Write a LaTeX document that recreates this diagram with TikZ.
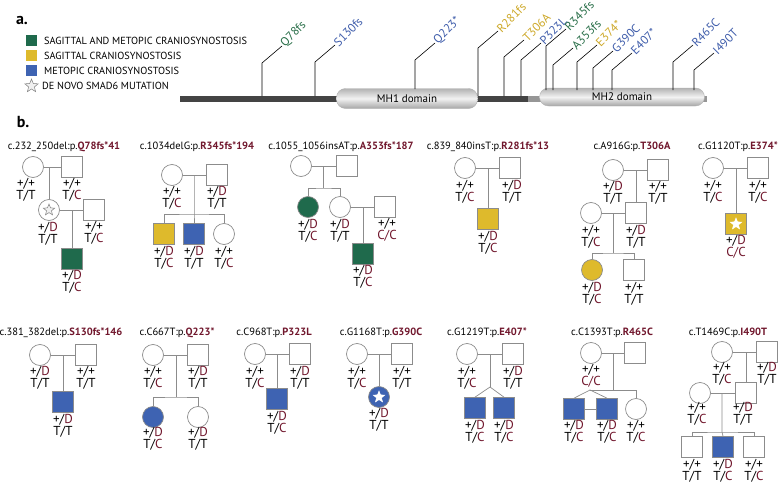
\documentclass[tikz,border=0pt]{standalone}
\usepackage{fontspec}
\setmainfont{PT Sans}
\usetikzlibrary{shapes.geometric,positioning}

\definecolor{sgreen}{RGB}{31,106,76}
\definecolor{syellow}{RGB}{222,186,44}
\definecolor{sblue}{RGB}{62,99,178}
\definecolor{tgreen}{RGB}{40,110,72}
\definecolor{tyellow}{RGB}{205,168,40}
\definecolor{tblue}{RGB}{62,92,170}
\definecolor{mutred}{RGB}{112,22,44}
\definecolor{linegray}{RGB}{140,140,140}
\definecolor{bardark}{RGB}{68,68,68}
\definecolor{barlight}{RGB}{150,150,150}

\newcommand{\mred}[1]{\textcolor{mutred}{#1}}
\newcommand{\ttlfont}{\fontsize{10.5}{11}\selectfont}
\newcommand{\gtfont}{\fontsize{13}{11}\selectfont}
\newcommand{\lgfont}{\fontsize{10.3}{11}\selectfont}
\newcommand{\mufont}{\fontsize{12}{12}\selectfont}

\tikzset{
  female/.style={circle, draw=linegray, line width=0.7pt, minimum size=21pt, inner sep=0pt},
  male/.style={rectangle, draw=linegray, line width=0.7pt, minimum size=21pt, inner sep=0pt},
  gtype/.style={font=\gtfont, align=center, inner sep=0pt},
  ptitle/.style={font=\ttlfont, inner sep=0pt},
  pline/.style={draw=linegray, line width=0.7pt},
  novo/.style={star, star points=5, star point ratio=2.3, minimum size=12pt, inner sep=0pt, draw=gray, fill=gray!12, line width=0.5pt},
  novow/.style={novo, draw=white, fill=white},
  mhbox/.style={rounded corners=9pt, draw=gray!60, top color=gray!60, bottom color=gray!70, middle color=gray!10, font=\fontsize{11}{12}\selectfont, inner sep=0pt},
  stem/.style={draw=black, line width=0.6pt},
  mutlab/.style={font=\mufont, rotate=45, anchor=west, inner sep=1pt},
  keybox/.style={minimum size=10.5pt, inner sep=0pt},
  keytext/.style={font=\lgfont, inner sep=0pt, anchor=west}
}

\begin{document}
\begin{tikzpicture}[x=1pt, y=-1pt]
    \useasboundingbox (0,0) rectangle (779,487);

    % Panel labels
    \node[font=\bfseries\fontsize{16}{16}\selectfont] (lbla) at (22,21) {a.};
    \node[font=\bfseries\fontsize{16}{16}\selectfont] (lblb) at (23,122) {b.};

    % Legend
    \node[keybox, fill=sgreen] (lg1) at (31.5,40.5) {};
    \node[keybox, fill=syellow] (lg2) at (31.5,55.5) {};
    \node[keybox, fill=sblue] (lg3) at (31.5,70.5) {};
    \node[novo, minimum size=14pt] (lg4) at (31.5,86) {};
    \node[keytext, right=7pt of lg1] (lt1) {SAGITTAL AND METOPIC CRANIOSYNOSTOSIS};
    \node[keytext, right=7pt of lg2] (lt2) {SAGITTAL CRANIOSYNOSTOSIS};
    \node[keytext, right=7pt of lg3] (lt3) {METOPIC CRANIOSYNOSTOSIS};
    \node[keytext, right=6pt of lg4] (lt4) {DE NOVO SMAD6 MUTATION};

    % Protein bar with domains
    \fill[bardark] (180,96) rectangle (528,102);
    \fill[barlight] (528,96) rectangle (707,102);
    \node[mhbox, minimum width=141pt, minimum height=20pt] (mh1) at (407,98.5) {MH1 domain};
    \node[mhbox, minimum width=165pt, minimum height=18pt] (mh2) at (622,97) {MH2 domain};

    % Mutation stems
    \foreach \x/\yb/\yt/\col/\lab [count=\i] in {
        262/96/63/tgreen/Q78fs, 315/96/62/tblue/S130fs, 415/89/60/tblue/Q223*,
        478/96/48/tyellow/R281fs, 504/96/57/tyellow/T306A, 521/96/60/tblue/P323L,
        546/90/46/tgreen/R345fs, 553/90/65/tgreen/A353fs, 577/90/62/tyellow/E374*,
        593/90/68/tblue/G390C, 612/90/70/tblue/E407*, 673/90/62/tblue/R465C,
        694/90/70/tblue/I490T} {
        \coordinate (mb\i) at (\x,\yb);
        \coordinate (mt\i) at (\x,\yt);
        \node[mutlab, text=\col] (mut\i) at (\x+20,\yt-17) {\lab};
        \draw[stem] (mb\i) -- (mt\i) -- (mut\i.west);
    }

    % Pedigree 1: c.232_250del
    \node[ptitle] (t1) at (64,147) {c.232\_250del:p.\mred{\textbf{Q78fs*41}}};
    \node[female] (p1a) at (33,167) {};
    \node[male] (p1b) at (72,167) {};
    \node[female] (p1c) at (49,210) {};
    \node[novo] (p1s) at (49,210) {};
    \node[male] (p1d) at (94,210) {};
    \node[male, fill=sgreen] (p1e) at (72,259) {};
    \draw[pline] (p1a.east) -- (p1b.west);
    \draw[pline] (p1c.north) -- (p1c.north |- p1a.east);
    \draw[pline] (p1c.east) -- (p1d.west);
    \draw[pline] (p1e.north) -- (p1e.north |- p1c.east);
    \node[gtype] (g1a) at (26,190) {+/+\\T/T};
    \node[gtype] (g1b) at (72,190) {+/+\\T/\mred{C}};
    \node[gtype] (g1c) at (48,234) {+/\mred{D}\\T/T};
    \node[gtype] (g1d) at (94,233) {+/+\\T/\mred{C}};
    \node[gtype] (g1e) at (72,282) {+/\mred{D}\\T/\mred{C}};

    % Pedigree 2: c.1034delG
    \node[ptitle] (t2) at (197,147) {c.1034delG:p.\mred{\textbf{R345fs*194}}};
    \node[female] (p2a) at (172,175) {};
    \node[male] (p2b) at (217,175) {};
    \node[male, fill=syellow] (p2c) at (164,234) {};
    \node[male, fill=sblue] (p2d) at (194,234) {};
    \node[female] (p2e) at (224,234) {};
    \coordinate (p2m) at (194,175);
    \coordinate (p2s) at (194,214);
    \draw[pline] (p2a.east) -- (p2b.west);
    \draw[pline] (p2m) -- (p2s) -- (p2d.north);
    \draw[pline] (p2c.north) |- (p2s) -| (p2e.north);
    \node[gtype] (g2a) at (172,198) {+/+\\T/\mred{C}};
    \node[gtype] (g2b) at (217,198) {+/\mred{D}\\T/T};
    \node[gtype] (g2c) at (164,258) {+/\mred{D}\\T/\mred{C}};
    \node[gtype] (g2d) at (194,258) {+/\mred{D}\\T/T};
    \node[gtype] (g2e) at (224,258) {+/+\\T/\mred{C}};

    % Pedigree 3: c.1055_1056insAT
    \node[ptitle] (t3) at (341,147) {c.1055\_1056insAT:p.\mred{\textbf{A353fs*187}}};
    \node[female] (p3a) at (301,166) {};
    \node[male] (p3b) at (347,166) {};
    \node[female, fill=sgreen] (p3c) at (308,207) {};
    \node[female] (p3d) at (340,207) {};
    \node[male] (p3e) at (385,207) {};
    \node[male, fill=sgreen] (p3f) at (363,254) {};
    \coordinate (p3m) at (323,166);
    \coordinate (p3s) at (323,188);
    \draw[pline] (p3a.east) -- (p3b.west);
    \draw[pline] (p3m) -- (p3s);
    \draw[pline] (p3c.north) |- (p3s) -| (p3d.north);
    \draw[pline] (p3d.east) -- (p3e.west);
    \draw[pline] (p3f.north) -- (p3f.north |- p3e.west);
    \node[gtype] (g3c) at (308,231) {+/\mred{D}\\T/\mred{C}};
    \node[gtype] (g3d) at (340,231) {+/\mred{D}\\T/T};
    \node[gtype] (g3e) at (387,230) {+/+\\\mred{C/C}};
    \node[gtype] (g3f) at (363,277) {+/\mred{D}\\T/\mred{C}};

    % Pedigree 4: c.839_840insT
    \node[ptitle] (t4) at (488,147) {c.839\_840insT:p.\mred{\textbf{R281fs*13}}};
    \node[female] (p4a) at (465,168) {};
    \node[male] (p4b) at (510,168) {};
    \node[male, fill=syellow] (p4c) at (488,219) {};
    \draw[pline] (p4a.east) -- (p4b.west);
    \draw[pline] (p4c.north) -- (p4c.north |- p4a.east);
    \node[gtype] (g4a) at (465,192) {+/+\\T/\mred{C}};
    \node[gtype] (g4b) at (512,192) {+/\mred{D}\\T/T};
    \node[gtype] (g4c) at (488,243) {+/\mred{D}\\T/\mred{C}};

    % Pedigree 5: c.A916G
    \node[ptitle] (t5) at (632,147) {c.A916G:p.\mred{\textbf{T306A}}};
    \node[female] (p5a) at (613,170) {};
    \node[male] (p5b) at (658,170) {};
    \node[female] (p5c) at (591,213) {};
    \node[male] (p5d) at (636,213) {};
    \node[female, fill=syellow] (p5e) at (592,270) {};
    \node[male] (p5f) at (634,270) {};
    \coordinate (p5m) at (613,213);
    \coordinate (p5s) at (613,253);
    \draw[pline] (p5a.east) -- (p5b.west);
    \draw[pline] (p5d.north) -- (p5d.north |- p5a.east);
    \draw[pline] (p5c.east) -- (p5d.west);
    \draw[pline] (p5m) -- (p5s);
    \draw[pline] (p5e.north) |- (p5s) -| (p5f.north);
    \node[gtype] (g5a) at (613,193) {+/\mred{D}\\T/T};
    \node[gtype] (g5b) at (658,193) {+/+\\T/T};
    \node[gtype] (g5c) at (591,237) {+/+\\T/\mred{C}};
    \node[gtype] (g5d) at (636,237) {+/\mred{D}\\T/T};
    \node[gtype] (g5e) at (592,294) {+/\mred{D}\\T/\mred{C}};
    \node[gtype] (g5f) at (634,294) {+/+\\T/T};

    % Pedigree 6: c.G1120T
    \node[ptitle] (t6) at (738,147) {c.G1120T:p.\mred{\textbf{E374*}}};
    \node[female] (p6a) at (713,168) {};
    \node[male] (p6b) at (758,168) {};
    \node[male, fill=syellow] (p6c) at (736,224) {};
    \node[novow] (p6s) at (736,224) {};
    \draw[pline] (p6a.east) -- (p6b.west);
    \draw[pline] (p6c.north) -- (p6c.north |- p6a.east);
    \node[gtype] (g6a) at (713,192) {+/+\\T/\mred{C}};
    \node[gtype] (g6b) at (758,192) {+/+\\T/\mred{C}};
    \node[gtype] (g6c) at (736,247) {+/\mred{D}\\\mred{C/C}};

    % Pedigree 7: c.381_382del
    \node[ptitle] (t7) at (61,333) {c.381\_382del:p.\mred{\textbf{S130fs*146}}};
    \node[female] (p7a) at (40,355) {};
    \node[male] (p7b) at (86,355) {};
    \node[male, fill=sblue] (p7c) at (63,402) {};
    \draw[pline] (p7a.east) -- (p7b.west);
    \draw[pline] (p7c.north) -- (p7c.north |- p7a.east);
    \node[gtype] (g7a) at (40,378) {+/\mred{D}\\T/T};
    \node[gtype] (g7b) at (86,378) {+/+\\T/T};
    \node[gtype] (g7c) at (63,426) {+/\mred{D}\\T/T};

    % Pedigree 8: c.C667T
    \node[ptitle] (t8) at (177,333) {c.C667T:p.\mred{\textbf{Q223*}}};
    \node[female] (p8a) at (153,355) {};
    \node[male] (p8b) at (198,355) {};
    \node[female, fill=sblue] (p8c) at (153,417) {};
    \node[female] (p8d) at (198,417) {};
    \coordinate (p8m) at (176,355);
    \coordinate (p8s) at (176,397);
    \draw[pline] (p8a.east) -- (p8b.west);
    \draw[pline] (p8m) -- (p8s);
    \draw[pline] (p8c.north) |- (p8s) -| (p8d.north);
    \node[gtype] (g8a) at (153,378) {+/+\\T/\mred{C}};
    \node[gtype] (g8b) at (198,378) {+/\mred{D}\\T/T};
    \node[gtype] (g8c) at (153,439) {+/\mred{D}\\T/\mred{C}};
    \node[gtype] (g8d) at (198,439) {+/\mred{D}\\T/T};

    % Pedigree 9: c.C968T
    \node[ptitle] (t9) at (274,333) {c.C968T:p.\mred{\textbf{P323L}}};
    \node[female] (p9a) at (255,354) {};
    \node[male] (p9b) at (300,354) {};
    \node[male, fill=sblue] (p9c) at (277,399) {};
    \draw[pline] (p9a.east) -- (p9b.west);
    \draw[pline] (p9c.north) -- (p9c.north |- p9a.east);
    \node[gtype] (g9a) at (255,378) {+/+\\T/\mred{C}};
    \node[gtype] (g9b) at (300,378) {+/\mred{D}\\T/T};
    \node[gtype] (g9c) at (277,423) {+/\mred{D}\\T/\mred{C}};

    % Pedigree 10: c.G1168T
    \node[ptitle] (t10) at (381,333) {c.G1168T:p.\mred{\textbf{G390C}}};
    \node[female] (p10a) at (357,354) {};
    \node[male] (p10b) at (402,354) {};
    \node[female, fill=sblue] (p10c) at (379,397) {};
    \node[novow] (p10s) at (379,397) {};
    \draw[pline] (p10a.east) -- (p10b.west);
    \draw[pline] (p10c.north) -- (p10c.north |- p10a.east);
    \node[gtype] (g10a) at (357,378) {+/+\\T/\mred{C}};
    \node[gtype] (g10b) at (402,378) {+/+\\T/T};
    \node[gtype] (g10c) at (379,420) {+/\mred{D}\\T/T};

    % Pedigree 11: c.G1219T (twins)
    \node[ptitle] (t11) at (487,333) {c.G1219T:p.\mred{\textbf{E407*}}};
    \node[female] (p11a) at (467,354) {};
    \node[male] (p11b) at (513,354) {};
    \node[male, fill=sblue] (p11c) at (475,408) {};
    \node[male, fill=sblue] (p11d) at (504,408) {};
    \coordinate (p11m) at (490,354);
    \coordinate (p11t) at (490,387);
    \draw[pline] (p11a.east) -- (p11b.west);
    \draw[pline] (p11m) -- (p11t);
    \draw[pline] (p11c.north) -- (p11t) -- (p11d.north);
    \node[gtype] (g11a) at (467,378) {+/+\\T/\mred{C}};
    \node[gtype] (g11b) at (513,378) {+/\mred{D}\\T/T};
    \node[gtype] (g11c) at (475,432) {+/\mred{D}\\T/\mred{C}};
    \node[gtype] (g11d) at (504,432) {+/\mred{D}\\T/\mred{C}};

    % Pedigree 12: c.C1393T (twins)
    \node[ptitle] (t12) at (612,333) {c.C1393T:p.\mred{\textbf{R465C}}};
    \node[female] (p12a) at (591,353) {};
    \node[male] (p12b) at (635,353) {};
    \node[male, fill=sblue] (p12c) at (574,409) {};
    \node[male, fill=sblue] (p12d) at (607,409) {};
    \node[female] (p12e) at (636,409) {};
    \coordinate (p12m) at (613,353);
    \coordinate (p12s) at (613,390);
    \coordinate (p12t) at (590,390);
    \draw[pline] (p12a.east) -- (p12b.west);
    \draw[pline] (p12m) -- (p12s);
    \draw[pline] (p12t) -| (p12e.north);
    \draw[pline] (p12c.north) -- (p12t) -- (p12d.north);
    \draw[pline] (p12c.east) -- (p12d.west);
    \node[gtype] (g12a) at (591,376) {+/+\\\mred{C/C}};
    \node[gtype] (g12c) at (574,432) {+/\mred{D}\\T/\mred{C}};
    \node[gtype] (g12d) at (607,432) {+/\mred{D}\\T/\mred{C}};
    \node[gtype] (g12e) at (636,432) {+/+\\T/\mred{C}};

    % Pedigree 13: c.T1469C
    \node[ptitle] (t13) at (728,333) {c.T1469C:p.\mred{\textbf{I490T}}};
    \node[female] (p13a) at (722,352) {};
    \node[male] (p13b) at (767,352) {};
    \node[female] (p13c) at (700,393) {};
    \node[male] (p13d) at (746,393) {};
    \node[male] (p13e) at (692,447) {};
    \node[male, fill=sblue] (p13f) at (723,447) {};
    \node[male] (p13g) at (754,447) {};
    \coordinate (p13m) at (722,393);
    \coordinate (p13s) at (722,432);
    \draw[pline] (p13a.east) -- (p13b.west);
    \draw[pline] (p13d.north) -- (p13d.north |- p13a.east);
    \draw[pline] (p13c.east) -- (p13d.west);
    \draw[pline] (p13m) -- (p13s) -- (p13f.north);
    \draw[pline] (p13e.north) |- (p13s) -| (p13g.north);
    \node[gtype] (g13a) at (722,374) {+/+\\T/\mred{C}};
    \node[gtype] (g13b) at (767,374) {+/\mred{D}\\T/T};
    \node[gtype] (g13c) at (697,414) {+/+\\T/\mred{C}};
    \node[gtype] (g13d) at (743,414) {+/\mred{D}\\T/T};
    \node[gtype] (g13e) at (692,471) {+/+\\T/T};
    \node[gtype] (g13f) at (723,471) {+/\mred{D}\\T/\mred{C}};
    \node[gtype] (g13g) at (754,471) {+/+\\T/\mred{C}};
\end{tikzpicture}
\end{document}
